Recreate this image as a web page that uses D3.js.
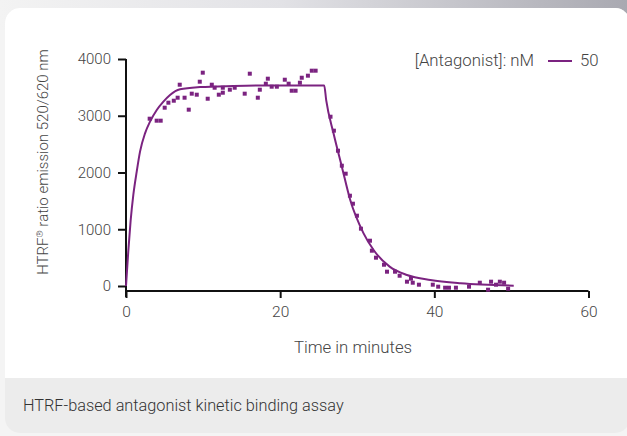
<!DOCTYPE html>
<html><head><meta charset="utf-8">
<script src="https://cdn.jsdelivr.net/npm/d3@7"></script>
<style>html,body{margin:0;padding:0;background:#f4f4f4;overflow:hidden}svg{display:block}</style>
</head><body>
<svg id="c" width="627" height="436"></svg>
<script>
// ---- data ----
const xTicks = [0, 20, 40, 60];
const yTicks = [0, 1000, 2000, 3000, 4000];
const seriesName = "50";
const legendTitle = "[Antagonist]: nM";
const xLabel = "Time in minutes";
const caption = "HTRF-based antagonist kinetic binding assay";
// measured points (time in minutes)
const pointT = [3.07,3.98,4.5,5.02,5.5,6.2,6.7,6.97,7.6,8.14,8.53,9.18,9.57,9.96,10.6,11.13,11.5,12.04,12.56,12.56,13.47,14.1,15.4,16.06,17.1,17.36,18.14,18.4,18.9,19.57,20.6,21.1,21.5,22.0,22.56,22.8,23.6,24.1,24.6,
  26.53,26.97,27.5,28.0,28.5,29.05,29.44,29.96,30.48,31.65,31.9,32.43,33.47,33.86,34.9,35.5,36.45,36.97,37.2,38.0,39.8,40.5,41.4,41.9,42.8,44.5,45.9,46.97,47.36,48.0,48.5,49.05,49.57];
const pointV = [2948,2913,2913,3142,3230,3265,3318,3547,3318,3107,3389,3371,3600,3759,3300,3547,3494,3371,3406,3494,3459,3494,3389,3741,3318,3459,3565,3653,3512,3512,3635,3565,3441,3441,3582,3670,3706,3794,3794,
  2983,2737,2384,2120,1979,1591,1450,1239,1010,798,622,499,375,252,252,181,76,129,58,23,23,-12,-30,-30,-30,-12,58,-65,76,23,76,58,-48];
// fitted curve
const curveT = [0,0.3,0.6,0.95,1.39,1.82,2.47,3.12,3.99,4.85,5.71,7.01,9.61,13.94,18.27,25.71,25.97,26.92,28.0,29.09,30.82,32.12,34.2,36.45,39.48,43.4,50.3];
const curveV = [0,620,1150,1604,2014,2367,2690,2896,3101,3248,3366,3466,3505,3525,3535,3535,3277,2690,2103,1515,928,634,341,194,106,47,6];

const color = "#7b2380";
const svg = d3.select("#c");

// background / card
const defs = svg.append("defs");
const g1 = defs.append("linearGradient").attr("id","top").attr("x1","0").attr("x2","1");
g1.append("stop").attr("offset","0").attr("stop-color","#f3f3f3");
g1.append("stop").attr("offset","0.45").attr("stop-color","#e2e2e6");
g1.append("stop").attr("offset","1").attr("stop-color","#a9a9b1");
svg.append("rect").attr("x",0).attr("y",0).attr("width",627).attr("height",436).attr("fill","#f4f4f4");
svg.append("rect").attr("x",0).attr("y",0).attr("width",627).attr("height",30).attr("fill","url(#top)");
svg.append("rect").attr("x",5).attr("y",8).attr("width",625).attr("height",425).attr("rx",15).attr("fill","#ececec");
defs.append("clipPath").attr("id","cardTop").append("rect").attr("x",0).attr("y",0).attr("width",627).attr("height",378);
svg.append("rect").attr("x",5).attr("y",8).attr("width",625).attr("height",425).attr("rx",15).attr("fill","#ffffff").attr("clip-path","url(#cardTop)");

const font = "Roboto, 'DejaVu Sans', sans-serif";
const x = d3.scaleLinear().domain([0,60]).range([126,588.5]);
const y = d3.scaleLinear().domain([0,4000]).range([286,59]);

// x axis
const xa = svg.append("g").attr("transform","translate(0,291)")
  .call(d3.axisBottom(x).tickValues(xTicks).tickSize(7).tickPadding(8).tickFormat(d3.format("d")));
xa.select(".domain").attr("d",`M${x(0)},0H${x(60)}`).attr("stroke","#111").attr("stroke-width",2);
xa.selectAll(".tick line").attr("stroke","#111").attr("stroke-width",2);
xa.selectAll(".tick text").attr("font-family",font).attr("font-size",15.5).attr("font-weight",300).attr("fill","#444");

// y axis
const ya = svg.append("g").attr("transform","translate(126,0)")
  .call(d3.axisLeft(y).tickValues(yTicks).tickSize(8).tickPadding(7).tickFormat(d3.format("d")));
ya.select(".domain").attr("d",`M0,${y(4000)}V297`).attr("stroke","#111").attr("stroke-width",2);
ya.selectAll(".tick line").attr("stroke","#111").attr("stroke-width",2);
ya.selectAll(".tick text").attr("font-family",font).attr("font-size",15).attr("font-weight",300).attr("fill","#444");

// axis labels
svg.append("text").attr("x",353).attr("y",353).attr("text-anchor","middle")
  .attr("font-family",font).attr("font-size",16.8).attr("font-weight",300).attr("fill","#444").text(xLabel);
const yl = svg.append("text").attr("transform","translate(48,162) rotate(-90)").attr("text-anchor","middle")
  .attr("font-family",font).attr("font-size",15).attr("font-weight",300).attr("fill","#444");
yl.append("tspan").text("HTRF");
yl.append("tspan").attr("font-size",9).attr("dy",-5).text("®");
yl.append("tspan").attr("dy",5).text(" ratio emission 520/620 nm");

// curve
const pts = curveT.map((t,i)=>[t,curveV[i]]);
svg.append("path").datum(pts)
  .attr("d", d3.line().x(d=>x(d[0])).y(d=>y(d[1])).curve(d3.curveMonotoneX))
  .attr("fill","none").attr("stroke",color).attr("stroke-width",2);

// points
svg.append("g").selectAll("rect").data(pointT.map((t,i)=>[t,pointV[i]])).join("rect")
  .attr("x",d=>x(d[0])-2).attr("y",d=>y(d[1])-2).attr("width",4).attr("height",4).attr("fill",color);

// legend
svg.append("text").attr("x",534).attr("y",66).attr("text-anchor","end")
  .attr("font-family",font).attr("font-size",16.8).attr("font-weight",300).attr("fill","#444").text(legendTitle);
svg.append("line").attr("x1",548).attr("x2",572).attr("y1",61).attr("y2",61).attr("stroke",color).attr("stroke-width",2);
svg.append("text").attr("x",580).attr("y",66)
  .attr("font-family",font).attr("font-size",16.8).attr("font-weight",300).attr("fill","#444").text(seriesName);

// caption
svg.append("text").attr("x",23).attr("y",411)
  .attr("font-family",font).attr("font-size",16.3).attr("font-weight",300).attr("fill","#333").text(caption);
</script>
</body></html>
